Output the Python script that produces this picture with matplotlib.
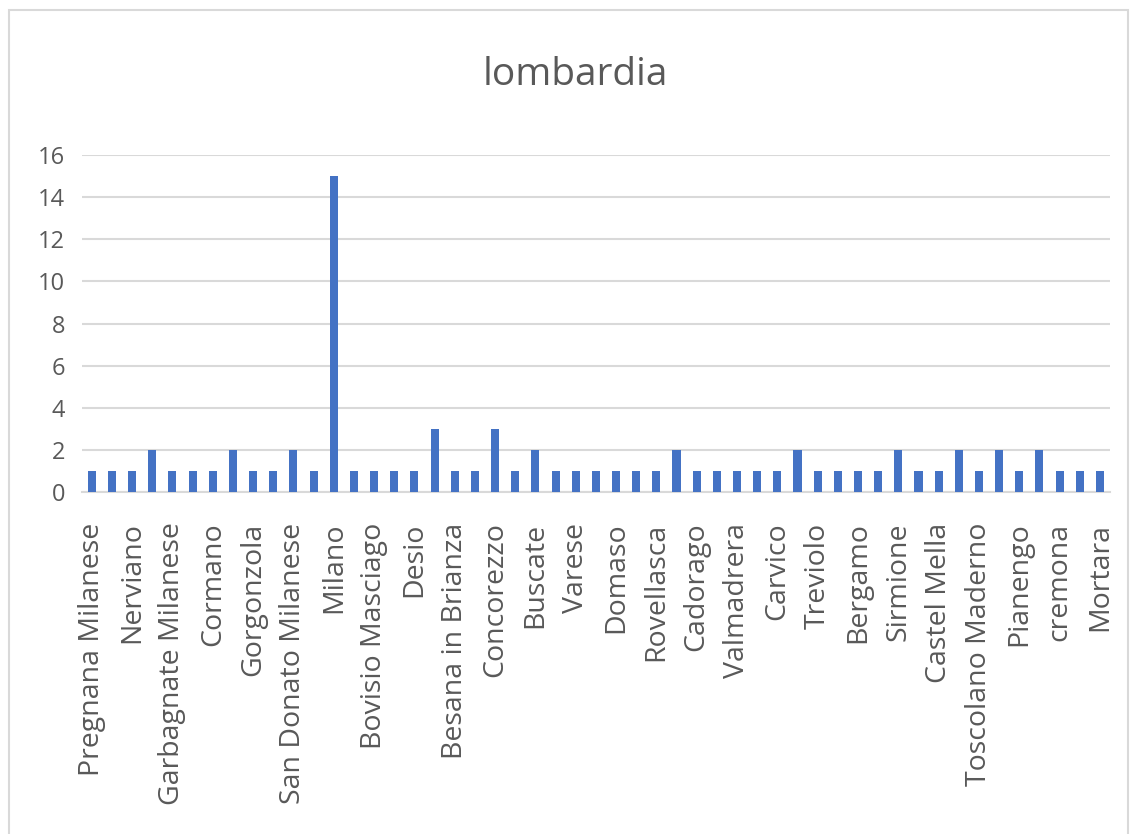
import matplotlib
matplotlib.use("Agg")
import matplotlib.pyplot as plt
from matplotlib.patches import Rectangle

title = "lombardia"
values = [1, 1, 1, 2, 1, 1, 1, 2, 1, 1, 2, 1, 15, 1, 1, 1, 1, 3, 1, 1,
          3, 1, 2, 1, 1, 1, 1, 1, 1, 2, 1, 1, 1, 1, 1, 2, 1, 1, 1, 1,
          2, 1, 1, 2, 1, 2, 1, 2, 1, 1, 1]
tick_labels = ["Pregnana Milanese", "Nerviano", "Garbagnate Milanese", "Cormano",
               "Gorgonzola", "San Donato Milanese", "Milano", "Bovisio Masciago",
               "Desio", "Besana in Brianza", "Concorezzo", "Buscate", "Varese",
               "Domaso", "Rovellasca", "Cadorago", "Valmadrera", "Carvico",
               "Treviolo", "Bergamo", "Sirmione", "Castel Mella",
               "Toscolano Maderno", "Pianengo", "cremona", "Mortara"]
yticks = [0, 2, 4, 6, 8, 10, 12, 14, 16]

plt.rcParams['font.family'] = ['Open Sans', 'DejaVu Sans']
fig = plt.figure(figsize=(11.35, 8.34), dpi=100)
fig.patches.append(Rectangle((0.008, -0.01), 0.986, 0.998, transform=fig.transFigure,
                             fill=False, edgecolor='#d9d9d9', linewidth=1.5))
ax = fig.add_axes([0.072, 0.410, 0.906, 0.404])
x = list(range(len(values)))
ax.bar(x, values, width=0.4, color='#4472C4', zorder=3)
ax.set_xlim(-0.5, len(values) - 0.5)
ax.set_ylim(0, 16)
ax.set_yticks(yticks)
ax.set_yticklabels([str(v) for v in yticks], fontsize=17, color='#595959')
ax.set_xticks(x[::2])
ax.set_xticklabels(tick_labels, rotation=90, fontsize=20.5, color='#595959')
ax.tick_params(axis='both', length=0)
ax.tick_params(axis='x', pad=22)
ax.tick_params(axis='y', pad=12)
ax.grid(axis='y', color='#d9d9d9', linewidth=1.5, zorder=0)
for s in ['top', 'right', 'left']:
    ax.spines[s].set_visible(False)
ax.spines['bottom'].set_color('#d9d9d9')
ax.spines['bottom'].set_linewidth(1.5)
fig.text(0.507, 0.91, title, ha='center', va='center', fontsize=28, color='#595959')
fig.savefig("out.png", dpi=100)
